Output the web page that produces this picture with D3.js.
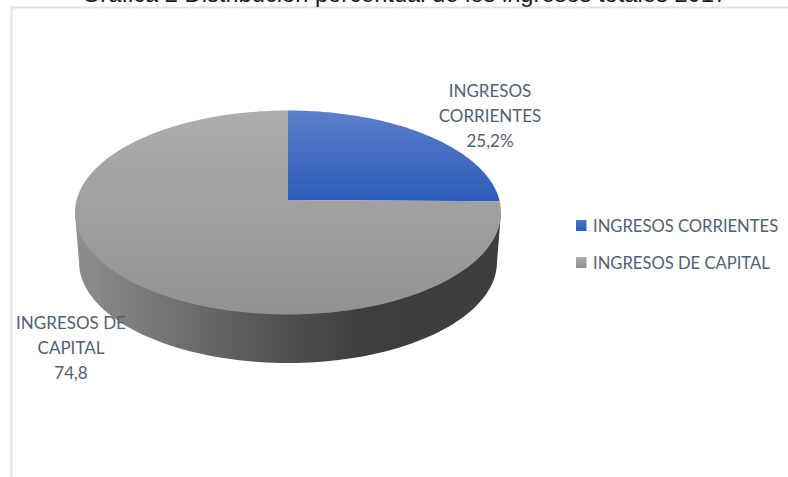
<!DOCTYPE html>
<meta charset="utf-8" />
<style>
  html, body { margin: 0; background: #fff; }
  svg { display: block; }
  .lbl text, .legend text {
    font-family: Lato, sans-serif;
    font-size: 17px;
    fill: #515f75;
  }
  .legend text { font-size: 16.6px; }
  .title {
    font-family: "Liberation Sans", Arial, sans-serif;
    font-size: 23.7px;
    fill: #1a1a1a;
  }
</style>
<svg width="788" height="477"></svg>
<script src="https://d3js.org/d3.v7.min.js"></script>
<script>
  var categories = ["INGRESOS CORRIENTES", "INGRESOS DE CAPITAL"];
  var values = [25.2, 74.8];
  var titleText = "Gráfica 2 Distribución porcentual de los ingresos totales 2017";
  var labelLines = [
    ["INGRESOS", "CORRIENTES", "25,2%"],
    ["INGRESOS DE", "CAPITAL", "74,8"]
  ];

  var svg = d3.select("svg");

  // the 3d look: top ellipse, pivot sits above its centre because of the perspective
  var cx = 288, cy = 212.5, rx = 213, ry = 102;
  var pivot = [288, 200];
  var depthK = 0.45;
  var bottom = { cx: 288, cy: 262, rx: 209, ry: 101 };

  var defs = svg.append("defs");

  function gradient(id, stops, box) {
    var g = defs.append("linearGradient").attr("id", id);
    if (box) {
      g.attr("gradientUnits", "userSpaceOnUse")
        .attr("x1", box[0]).attr("y1", box[1])
        .attr("x2", box[2]).attr("y2", box[3]);
    } else {
      g.attr("x1", 0).attr("y1", 0).attr("x2", 0).attr("y2", 1);
    }
    stops.forEach(function (s) {
      g.append("stop").attr("offset", s[0]).attr("stop-color", s[1]);
    });
  }

  gradient("blueTop", [[0, "#5c7fca"], [1, "#2c5cb9"]], [0, 110, 0, 200]);
  gradient("grayTop", [[0, "#adadad"], [1, "#929292"]], [0, 110, 0, 315]);
  gradient("side", [[0, "#8f8f8f"], [0.5, "#4f4f4f"], [0.68, "#3e3e3e"], [1, "#3d3d3d"]], [75, 0, 501, 0]);
  gradient("blueKey", [[0, "#4a73c8"], [1, "#2c5cb9"]]);
  gradient("grayKey", [[0, "#adadad"], [1, "#8f8f8f"]]);

  var fills = ["url(#blueTop)", "url(#grayTop)"];
  var keyFills = ["url(#blueKey)", "url(#grayKey)"];

  // chart frame, only left and top edge show
  svg.append("path")
    .attr("d", "M11.5,477V7.5H788")
    .attr("fill", "none")
    .attr("stroke", "#dfe4ef")
    .attr("stroke-width", 2);

  svg.append("text")
    .attr("class", "title")
    .attr("x", 404.5)
    .attr("y", 1.5)
    .attr("text-anchor", "middle")
    .text(titleText);

  // where a pie angle lands on the tilted rim
  function rim(a) {
    var dx = Math.sin(a) / rx,
      dy = (-Math.cos(a) * depthK) / ry,
      oy = (pivot[1] - cy) / ry,
      A = dx * dx + dy * dy,
      B = 2 * oy * dy,
      C = oy * oy - 1,
      t = (-B + Math.sqrt(B * B - 4 * A * C)) / (2 * A);
    return [pivot[0] + t * Math.sin(a), pivot[1] - t * Math.cos(a) * depthK];
  }

  var line = d3.line();

  var arcs = d3.pie().sort(null)(values);

  var halfBottom = d3.range(0, 181, 2).map(function (deg) {
    var r = (deg * Math.PI) / 180;
    return [bottom.cx - bottom.rx * Math.cos(r), bottom.cy + bottom.ry * Math.sin(r)];
  });

  svg.append("path")
    .attr("d", line([[cx - rx, cy]].concat(halfBottom, [[cx + rx, cy], [cx, cy]])) + "Z")
    .attr("fill", "url(#side)");

  svg.append("g")
    .selectAll("path")
    .data(arcs)
    .join("path")
    .attr("d", function (d) {
      var n = Math.ceil((d.endAngle - d.startAngle) / 0.02);
      var pts = d3.range(n + 1).map(function (i) {
        return rim(d.startAngle + ((d.endAngle - d.startAngle) * i) / n);
      });
      return line([pivot].concat(pts)) + "Z";
    })
    .attr("fill", function (d, i) {
      return fills[i];
    });

  // data labels
  var labelPos = [
    { x: 490, y: 96.5 },
    { x: 71, y: 329 }
  ];
  var lineGap = 25;

  var lbl = svg.append("g").attr("class", "lbl")
    .selectAll("g")
    .data(labelLines)
    .join("g")
    .attr("transform", function (d, i) {
      return "translate(" + labelPos[i].x + "," + labelPos[i].y + ")";
    });

  lbl.selectAll("text")
    .data(function (d) { return d; })
    .join("text")
    .attr("text-anchor", "middle")
    .attr("y", function (d, i) { return i * lineGap; })
    .text(function (d) { return d; });

  // legend
  var legendY = d3.scalePoint().domain(categories).range([220, 257]);

  var legend = svg.append("g").attr("class", "legend")
    .selectAll("g")
    .data(categories)
    .join("g")
    .attr("transform", function (d) {
      return "translate(576," + legendY(d) + ")";
    });

  legend.append("rect")
    .attr("width", 10.5)
    .attr("height", 11)
    .attr("fill", function (d, i) { return keyFills[i]; });

  legend.append("text")
    .attr("x", 17)
    .attr("y", 11.5)
    .text(function (d) { return d; });
</script>
